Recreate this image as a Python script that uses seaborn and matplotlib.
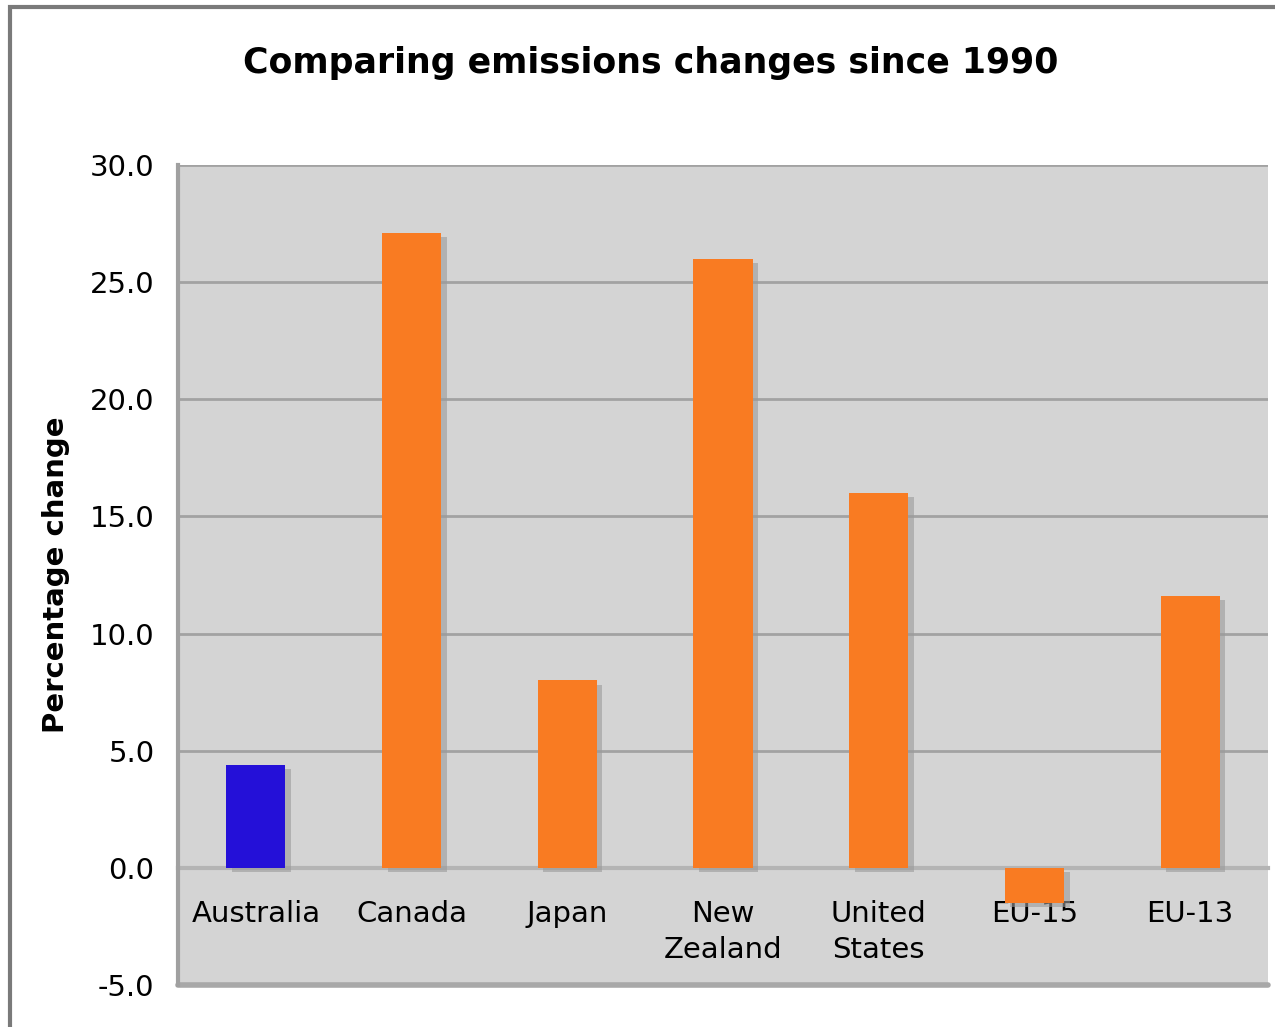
import numpy as np
import pandas as pd
import matplotlib
matplotlib.use('Agg')
import matplotlib.pyplot as plt
import matplotlib.patheffects as pe
from matplotlib.patches import Rectangle
import seaborn as sns

# data
countries = ['Australia', 'Canada', 'Japan', 'New\nZealand', 'United\nStates', 'EU-15', 'EU-13']
pct_change = [4.4, 27.1, 8.0, 26.0, 16.0, -1.5, 11.6]
bar_colors = ['#2410d8', '#f97b22', '#f97b22', '#f97b22', '#f97b22', '#f97b22', '#f97b22']
y_ticks = [-5.0, 0.0, 5.0, 10.0, 15.0, 20.0, 25.0, 30.0]

df = pd.DataFrame({'country': countries, 'change': pct_change})

sns.set_style('white')
plt.rcParams['font.family'] = ['DejaVu Sans']
plt.rcParams['text.color'] = 'black'
plt.rcParams['axes.labelcolor'] = 'black'

fig = plt.figure(figsize=(12.75, 10.27), dpi=100)
ax = fig.add_axes([0.1396, 0.0409, 0.855, 0.7984])

# ---------- bars ----------
sns.barplot(data=df, x='country', y='change', hue='country', palette=bar_colors,
            legend=False, width=0.38, saturation=1, ax=ax, zorder=3)
for bar in ax.patches:
    bar.set_path_effects([pe.SimplePatchShadow(offset=(4, -3), shadow_rgbFace='#9a9a9a', alpha=0.6),
                          pe.Normal()])
    bar.set_edgecolor('none')

# ---------- axes styling ----------
ax.set_facecolor('#d4d4d4')
ax.set_ylim(-5, 30)
ax.set_xlim(-0.5, len(countries) - 0.5)
ax.set_yticks(y_ticks)
ax.set_yticklabels([f'{v:.1f}' for v in y_ticks], fontsize=21, color='black')
ax.yaxis.grid(True, color='#a2a2a2', linewidth=2, zorder=1)
ax.set_axisbelow(True)

for side in ['top', 'right']:
    ax.spines[side].set_visible(False)
ax.spines['left'].set_color('#a0a0a0')
ax.spines['left'].set_linewidth(3)
ax.spines['bottom'].set_position(('data', 0))
ax.spines['bottom'].set_color('#b4b4b4')
ax.spines['bottom'].set_linewidth(3)
ax.spines['bottom'].set_zorder(2)

ax.tick_params(axis='y', length=7, width=2, color='#a0a0a0', pad=10)
ax.set_xticks(np.arange(len(countries) - 1) + 0.5, minor=True)
ax.tick_params(axis='x', which='major', length=0, pad=23, labelsize=21, labelcolor='black')
ax.tick_params(axis='x', which='minor', length=7, width=2, color='#a0a0a0', direction='out')
for lbl in ax.get_xticklabels():
    lbl.set_linespacing(1.38)

# bottom frame line of the plot area
ax.axhline(-5, color='#a8a8a8', linewidth=4, zorder=2, clip_on=False)

ax.set_xlabel('')
ax.set_ylabel('Percentage change', fontsize=21, fontweight='bold', labelpad=14)

fig.text(0.51, 0.939, 'Comparing emissions changes since 1990', ha='center', va='center',
         fontsize=25, fontweight='bold', color='black')

# outer chart frame
fig.patches.append(Rectangle((0.008, -0.05), 1.2, 1.043, transform=fig.transFigure,
                             fill=False, edgecolor='#7a7a7a', linewidth=3))

fig.savefig('out.png', dpi=100)
